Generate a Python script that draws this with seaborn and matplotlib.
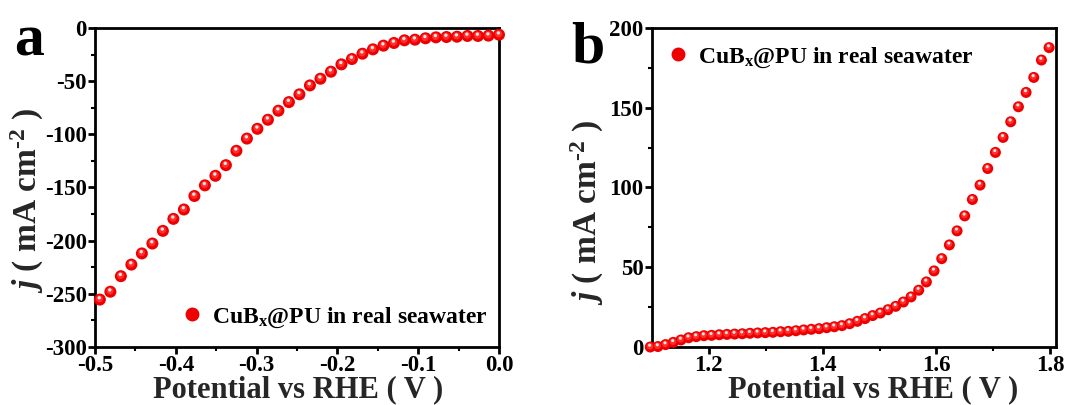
import numpy as np
import pandas as pd
import seaborn as sns
import matplotlib
matplotlib.use("Agg")
import matplotlib.pyplot as plt
from matplotlib.lines import Line2D
from matplotlib.ticker import MultipleLocator, AutoMinorLocator, FormatStrFormatter
from matplotlib.transforms import offset_copy

# ---- HER polarization curve (cathodic), CuBx@PU in real seawater ----
her_potential = np.linspace(-0.494, 0.0, 39)
her_current = [-255.4, -248.0, -233.4, -222.5, -212.0, -202.7, -190.8, -179.5,
               -170.7, -158.0, -148.0, -139.0, -129.0, -115.5, -104.0, -94.8,
               -86.3, -77.8, -69.7, -62.4, -54.0, -47.7, -41.1, -34.2, -29.2,
               -24.2, -20.1, -16.6, -14.1, -11.6, -11.0, -9.7, -8.8, -8.5,
               -8.2, -7.5, -7.5, -7.2, -6.3]

# ---- OER polarization curve (anodic), CuBx@PU in real seawater ----
oer_potential = np.linspace(1.097, 1.798, 53)
oer_current = [0.0, 0.3, 1.5, 2.9, 4.4, 5.8, 6.5, 7.1, 7.3, 7.7, 7.9, 8.1, 8.3,
               8.6, 8.8, 9.0, 9.2, 9.6, 9.8, 10.2, 10.7, 11.1, 11.5, 12.1, 12.7,
               13.4, 14.6, 16.1, 17.8, 19.7, 21.3, 23.4, 25.5, 28.2, 31.4, 35.6,
               40.8, 47.7, 55.4, 64.0, 72.8, 82.2, 92.5, 101.5, 111.9, 122.0,
               131.4, 141.2, 150.6, 159.6, 169.0, 179.9, 187.7]

series_label = r"CuB$_\mathregular{x}$@PU in real seawater"
x_label = "Potential vs RHE ( V )"
y_label = r"$j$ ( mA cm$^{\mathregular{\text{-}2}}$ )"

sns.set_style("ticks")
plt.rcParams.update({
    "font.family": ["Liberation Serif", "DejaVu Serif"],
    "font.weight": "bold",
    "mathtext.fontset": "custom",
    "mathtext.rm": "Liberation Serif:bold",
    "mathtext.it": "Liberation Serif:italic:bold",
    "mathtext.bf": "Liberation Serif:bold",
    "axes.unicode_minus": False,
    "axes.linewidth": 2.0,
    "axes.edgecolor": "black",
    "xtick.color": "black",
    "ytick.color": "black",
    "text.color": "black",
})

fig = plt.figure(figsize=(10.81, 4.05), dpi=100)
ax_a = fig.add_axes([0.0879, 0.1432, 0.3737, 0.7877])
ax_b = fig.add_axes([0.6031, 0.1432, 0.3737, 0.7877])

BASE = "#ee0000"
MID = "#ff2e2e"
GLOSS = "#ffe6e6"


def glossy_scatter(ax, x, y, diam_px):
    """Red spheres: a solid disc, a lighter core and a small specular spot."""
    df = pd.DataFrame({"x": x, "y": y})
    d_pt = diam_px * 72 / fig.dpi
    sns.scatterplot(data=df, x="x", y="y", ax=ax, s=d_pt ** 2, color=BASE,
                    edgecolor="none", linewidth=0, zorder=3, legend=False,
                    clip_on=False)
    core = offset_copy(ax.transData, fig=fig, x=-0.4, y=0.8, units="dots")
    sns.scatterplot(data=df, x="x", y="y", ax=ax, s=(d_pt * 0.6) ** 2,
                    color=MID, edgecolor="none", linewidth=0, zorder=4,
                    legend=False, transform=core, clip_on=False)
    spot = offset_copy(ax.transData, fig=fig, x=-0.6, y=1.8, units="dots")
    sns.scatterplot(data=df, x="x", y="y", ax=ax, s=(d_pt * 0.28) ** 2,
                    color=GLOSS, edgecolor="none", linewidth=0, zorder=5,
                    legend=False, transform=spot, clip_on=False)


glossy_scatter(ax_a, her_potential, her_current, 12)
glossy_scatter(ax_b, oer_potential, oer_current, 11)

# axis ranges and ticks
ax_a.set_xlim(-0.5, 0.0)
ax_a.set_ylim(-300, 0)
ax_a.xaxis.set_major_locator(MultipleLocator(0.1))
ax_a.yaxis.set_major_locator(MultipleLocator(50))
ax_a.xaxis.set_major_formatter(FormatStrFormatter("%.1f"))
ax_a.yaxis.set_major_formatter(FormatStrFormatter("%d"))

ax_b.set_xlim(1.1, 1.81)
ax_b.set_ylim(0, 200)
ax_b.set_xticks([1.2, 1.4, 1.6, 1.8])
ax_b.xaxis.set_major_formatter(FormatStrFormatter("%.1f"))
ax_b.yaxis.set_major_locator(MultipleLocator(50))
ax_b.yaxis.set_major_formatter(FormatStrFormatter("%d"))

for ax in (ax_a, ax_b):
    for sp in ax.spines.values():
        sp.set_visible(True)
        sp.set_linewidth(2.0)
    ax.xaxis.set_minor_locator(AutoMinorLocator(2))
    ax.yaxis.set_minor_locator(AutoMinorLocator(2))
    ax.tick_params(which="major", direction="out", length=5, width=2,
                   labelsize=16.5, pad=1)
    ax.tick_params(which="minor", direction="out", length=3, width=1.5)
    ax.tick_params(top=False, right=False, which="both")
    for lbl in ax.get_xticklabels() + ax.get_yticklabels():
        lbl.set_fontweight("bold")
    ax.set_xlabel(x_label, fontsize=22, fontweight="bold", va="center")
    ax.set_ylabel(y_label, fontsize=24, fontweight="bold", va="center")

ax_a.xaxis.set_label_coords(0.502, -0.133)
ax_a.yaxis.set_label_coords(-0.168, 0.46)
ax_b.xaxis.set_label_coords(0.547, -0.133)
ax_b.yaxis.set_label_coords(-0.160, 0.42)

# legends
handle = Line2D([], [], linestyle="none", marker="o", markersize=9,
                markerfacecolor=BASE, markeredgecolor=BASE)
legend_font = {"family": "Liberation Serif", "weight": "bold", "size": 17}
ax_a.legend([handle], [series_label], loc="lower right", frameon=False,
            prop=legend_font, handlelength=0.8, handletextpad=0.45,
            borderaxespad=0.0, bbox_to_anchor=(0.995, 0.025))
ax_b.legend([handle], [series_label], loc="upper left", frameon=False,
            prop=legend_font, handlelength=0.8, handletextpad=0.45,
            borderaxespad=0.0, bbox_to_anchor=(0.018, 0.975))

# panel letters
fig.text(14 / 1081, 0.864, "a", fontsize=43, fontweight="bold",
         va="baseline", ha="left")
fig.text(571 / 1081, 0.845, "b", fontsize=43, fontweight="bold",
         va="baseline", ha="left")

fig.savefig("out.png", dpi=100)
